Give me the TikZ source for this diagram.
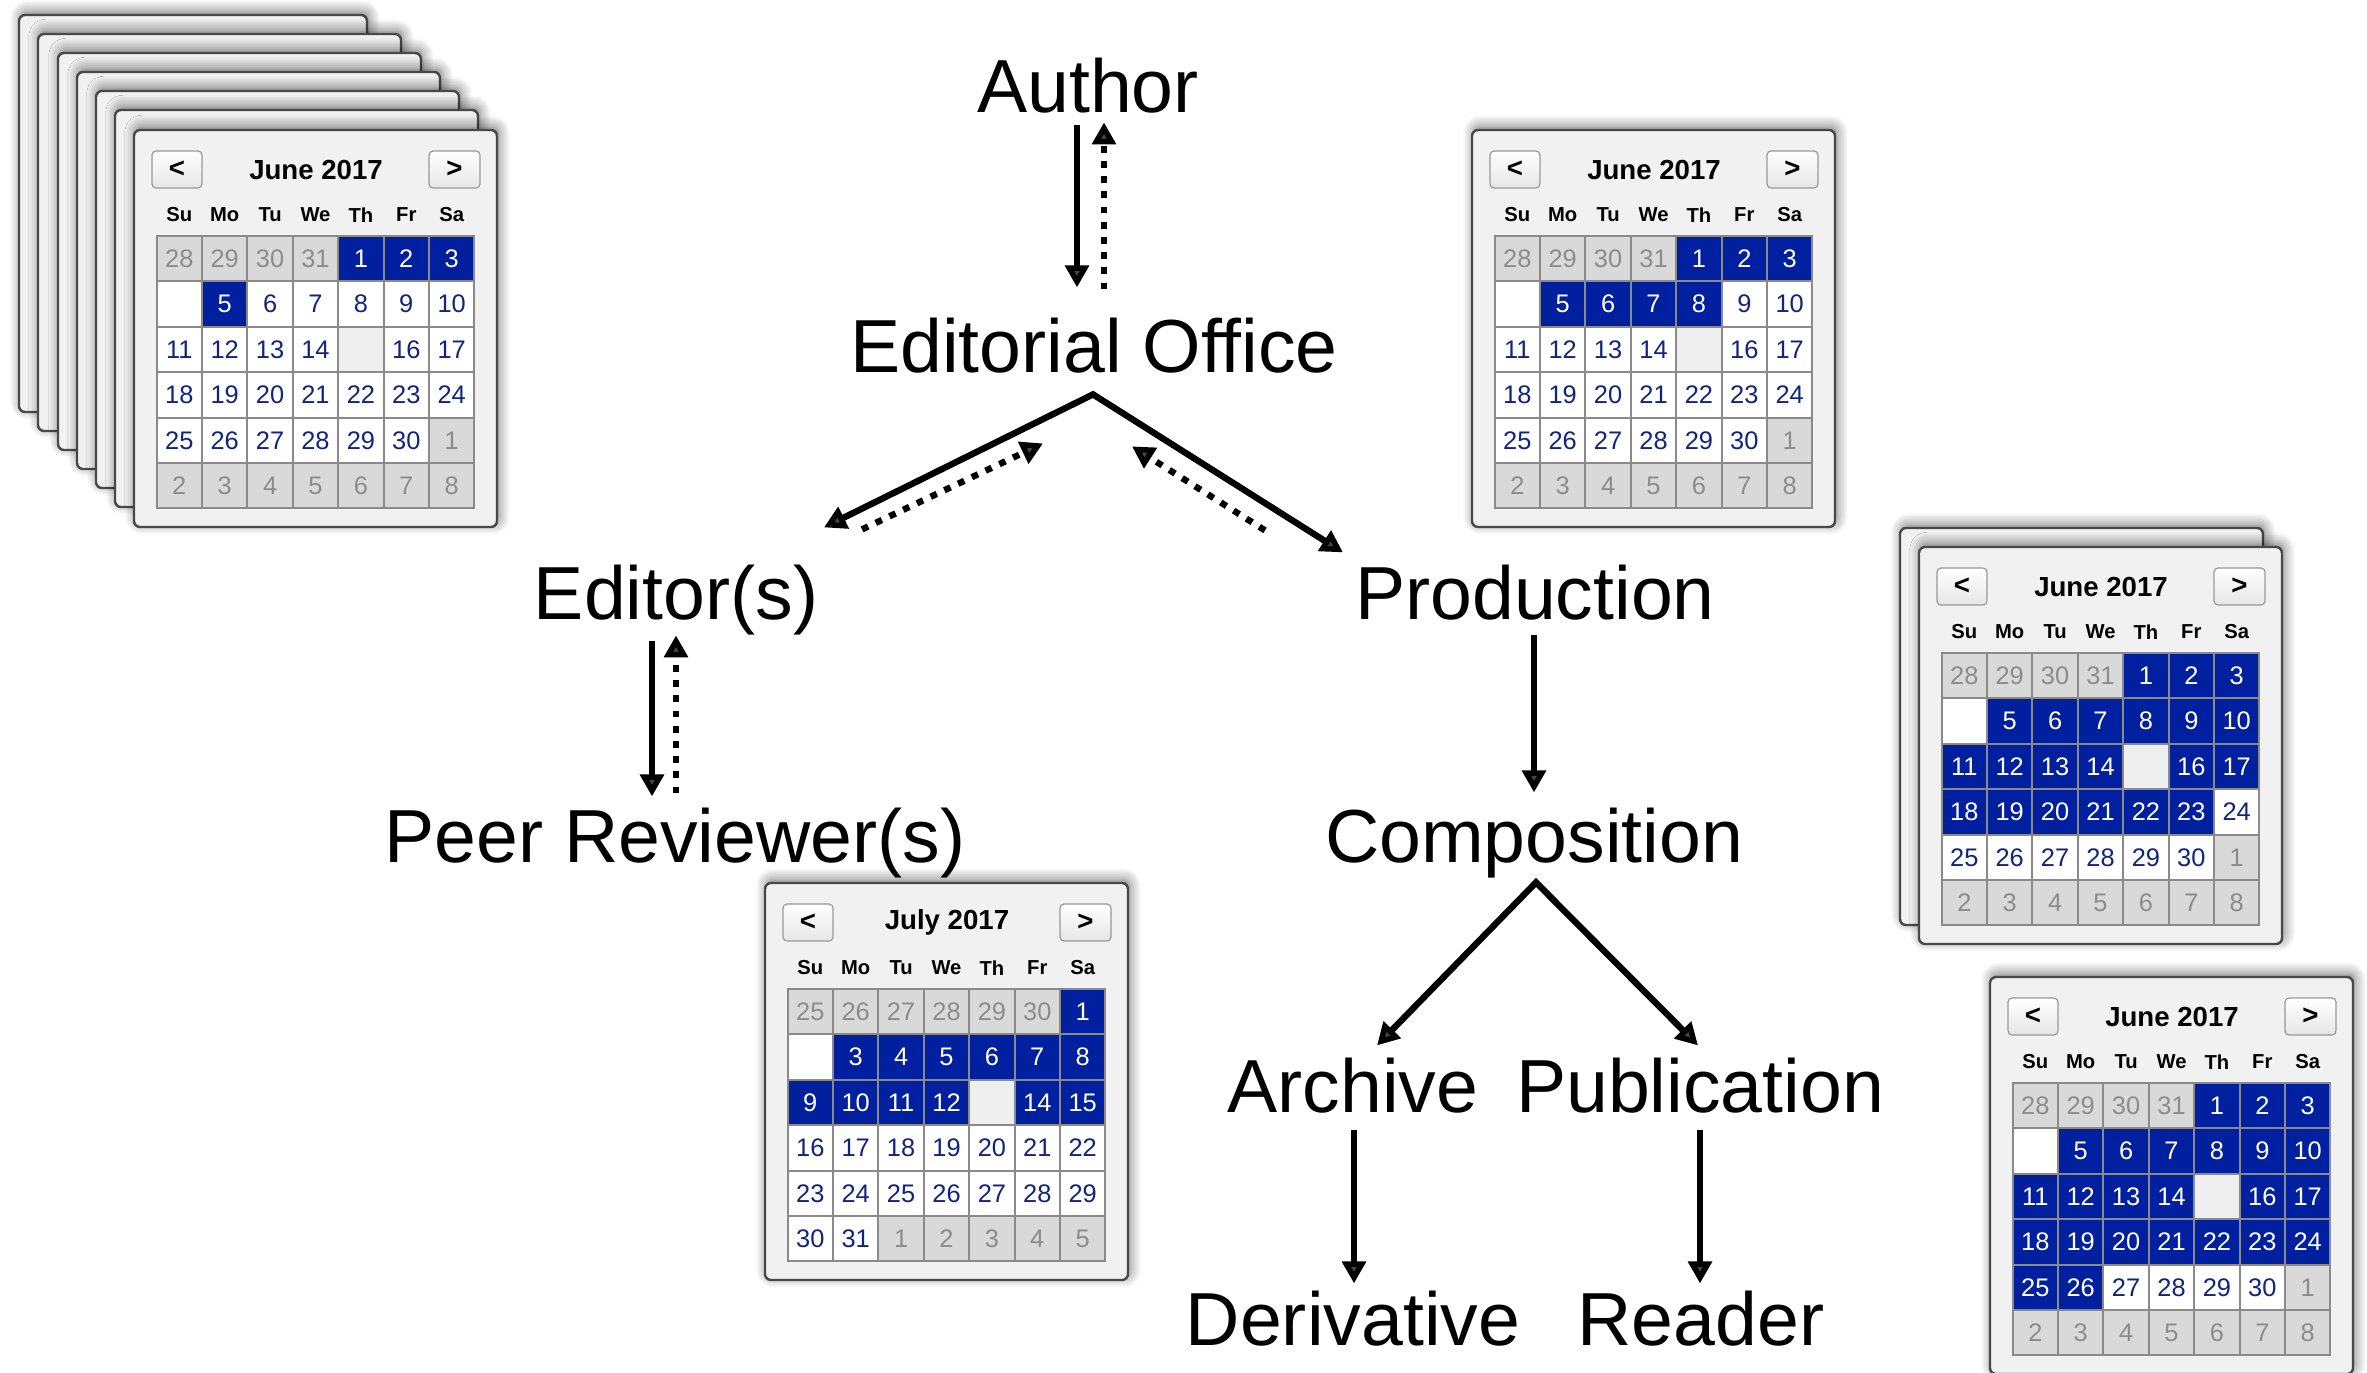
\documentclass[tikz,border=0pt]{standalone}
\usepackage{fontspec}
\setmainfont{Liberation Sans}
\usetikzlibrary{arrows.meta,calc,shadows.blur}

\definecolor{selblue}{RGB}{0,32,159}
\definecolor{daytext}{RGB}{16,36,128}
\definecolor{grayfill}{RGB}{217,217,217}
\definecolor{graytext}{RGB}{140,140,140}
\definecolor{framefill}{RGB}{241,241,241}
\definecolor{framedraw}{RGB}{72,72,72}
\definecolor{celldraw}{RGB}{138,138,138}
\definecolor{todayfill}{RGB}{239,239,239}

\tikzset{
  lbl/.style={font=\fontsize{18.8}{22}\selectfont, anchor=base, inner sep=0pt, text height=12.2pt, text depth=4.9pt},
  tipa/.tip={Triangle[length=5.5pt,width=5.8pt]},
  solidarr/.style={line width=1.6pt, -tipa},
  dotarr/.style={line width=1.6pt, dash pattern=on 1.7pt off 2.1pt, -tipa},
  calframe/.style={rounded corners=1.5pt, fill=framefill, draw=framedraw, line width=0.6pt,
    blur shadow={shadow xshift=0.5pt, shadow yshift=0.9pt, shadow blur radius=2.8pt, shadow blur steps=8, shadow opacity=55}},
  calbtn/.style={rounded corners=1pt, draw=black!40, line width=0.3pt, top color=white, bottom color=black!10},
  caltitle/.style={font=\bfseries\fontsize{6.9}{8}\selectfont, inner sep=0pt},
  calhead/.style={font=\bfseries\fontsize{5.05}{6}\selectfont, inner sep=0pt},
  calnum/.style={font=\fontsize{6.35}{7}\selectfont, inner sep=0pt},
}

\newcommand{\backframe}[3]{\path[calframe] (#1,#2) rectangle +(#3,397);}

\newcommand{\drawcal}[4]{%
\begin{scope}[shift={(#1,#2)}]
\path[calframe] (0,0) rectangle (363,397);
\path[calbtn] (18,21) rectangle (68,58);
\path[calbtn] (295,21) rectangle (346,58);
\node[caltitle] at (43,39.5) {<};
\node[caltitle] at (320.5,39.5) {>};
\node[caltitle] at (182,39.5) {#3};
\foreach \hn [count=\hk from 0] in {Su,Mo,Tu,We,Th,Fr,Sa}
  \node[calhead] at ({45.3+45.4*\hk},85) {\hn};
\foreach \ty/\dd [count=\ii from 0] in {#4} {%
  \pgfmathtruncatemacro\ccol{mod(\ii,7)}%
  \pgfmathtruncatemacro\crow{floor(\ii/7)}%
  \def\cf{white}\def\ct{daytext}%
  \if g\ty \def\cf{grayfill}\def\ct{graytext}\fi
  \if s\ty \def\cf{selblue}\def\ct{white}\fi
  \if t\ty \def\cf{todayfill}\fi
  \path[fill=\cf, draw=celldraw, line width=0.5pt] ({22.6+45.4*\ccol},{106+45.4*\crow}) rectangle +(45.4,45.4);
  \node[calnum, text=\ct] at ({45.3+45.4*\ccol},{128.7+45.4*\crow}) {\dd};
}
\end{scope}}

\begin{document}
\begin{tikzpicture}[x=0.25pt, y=-0.25pt]
\useasboundingbox (0,0) rectangle (2367,1372);

% ---------- calendars ----------
% stack at top left
\backframe{19}{15}{348}
\backframe{38}{34}{363}
\backframe{58}{53}{363}
\backframe{77}{72}{363}
\backframe{96}{91}{363}
\backframe{115}{110}{363}
\drawcal{134}{130}{June 2017}{g/28,g/29,g/30,g/31,s/1,s/2,s/3,
  w/{},s/5,n/6,n/7,n/8,n/9,n/10,
  n/11,n/12,n/13,n/14,t/{},n/16,n/17,
  n/18,n/19,n/20,n/21,n/22,n/23,n/24,
  n/25,n/26,n/27,n/28,n/29,n/30,g/1,
  g/2,g/3,g/4,g/5,g/6,g/7,g/8}

% top right
\drawcal{1472}{130}{June 2017}{g/28,g/29,g/30,g/31,s/1,s/2,s/3,
  w/{},s/5,s/6,s/7,s/8,n/9,n/10,
  n/11,n/12,n/13,n/14,t/{},n/16,n/17,
  n/18,n/19,n/20,n/21,n/22,n/23,n/24,
  n/25,n/26,n/27,n/28,n/29,n/30,g/1,
  g/2,g/3,g/4,g/5,g/6,g/7,g/8}

% July, middle
\drawcal{765}{883}{July 2017}{g/25,g/26,g/27,g/28,g/29,g/30,s/1,
  w/{},s/3,s/4,s/5,s/6,s/7,s/8,
  s/9,s/10,s/11,s/12,t/{},s/14,s/15,
  n/16,n/17,n/18,n/19,n/20,n/21,n/22,
  n/23,n/24,n/25,n/26,n/27,n/28,n/29,
  n/30,n/31,g/1,g/2,g/3,g/4,g/5}

% right middle (two stacked)
\backframe{1900}{528}{363}
\drawcal{1919}{547}{June 2017}{g/28,g/29,g/30,g/31,s/1,s/2,s/3,
  w/{},s/5,s/6,s/7,s/8,s/9,s/10,
  s/11,s/12,s/13,s/14,t/{},s/16,s/17,
  s/18,s/19,s/20,s/21,s/22,s/23,n/24,
  n/25,n/26,n/27,n/28,n/29,n/30,g/1,
  g/2,g/3,g/4,g/5,g/6,g/7,g/8}

% bottom right
\drawcal{1990}{977}{June 2017}{g/28,g/29,g/30,g/31,s/1,s/2,s/3,
  w/{},s/5,s/6,s/7,s/8,s/9,s/10,
  s/11,s/12,s/13,s/14,t/{},s/16,s/17,
  s/18,s/19,s/20,s/21,s/22,s/23,s/24,
  s/25,s/26,n/27,n/28,n/29,n/30,g/1,
  g/2,g/3,g/4,g/5,g/6,g/7,g/8}

% ---------- labels ----------
\node[lbl] (author) at (1088,112) {Author};
\node[lbl] (edit)   at (1094,372) {Editorial Office};
\node[lbl] (editor) at (676,619)  {Editor(s)};
\node[lbl] (prod)   at (1535,619) {Production};
\node[lbl] (peer)   at (675,862)  {Peer Reviewer(s)};
\node[lbl] (comp)   at (1534,862) {Composition};
\node[lbl] (arch)   at (1353,1112) {Archive};
\node[lbl] (pub)    at (1700,1112) {Publication};
\node[lbl] (deriv)  at (1353,1345) {Derivative};
\node[lbl] (reader) at (1701,1345) {Reader};

% ---------- connectors ----------
\draw[solidarr] ($(author.south)+(-11,-7)$) -- ($(edit.north)+(-17,-35)$);
\draw[dotarr]   ($(edit.north)+(10,-33)$) -- ($(author.south)+(16,-10)$);

\draw[line width=1.6pt, tipa-tipa] ($(editor.north)+(148,-42)$) -- ($(edit.south)+(-1,2)$) -- ($(prod.north)+(-192,-17)$);
\draw[dotarr] ($(editor.north)+(186,-40)$) -- ($(edit.south)+(-51,51)$);
\draw[dotarr] ($(prod.north)+(-270,-39)$) -- ($(edit.south)+(38,54)$);

\draw[solidarr] ($(editor.south)+(-24,2)$) -- ($(peer.north)+(-23,-16)$);
\draw[dotarr]   ($(peer.north)+(1,-19)$) -- ($(editor.south)+(0,-4)$);

\draw[solidarr] ($(prod.south)+(-1,-4)$) -- ($(comp.north)+(0,-20)$);

\draw[line width=1.6pt, tipa-tipa] ($(arch.north)+(24,-17)$) -- ($(comp.south)+(2,0)$) -- ($(pub.north)+(-2,-17)$);

\draw[solidarr] ($(arch.south)+(1,-2)$) -- ($(deriv.north)+(1,-12)$);
\draw[solidarr] ($(pub.south)+(0,-2)$) -- ($(reader.north)+(-1,-12)$);
\end{tikzpicture}
\end{document}
